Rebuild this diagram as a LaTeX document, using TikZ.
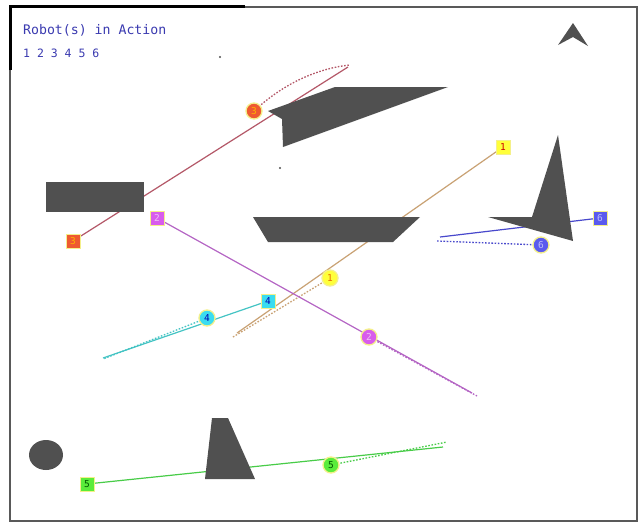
\documentclass[tikz,border=0pt]{standalone}
\usepackage{fontspec}
\newfontfamily\monofont{DejaVu Sans Mono}
\begin{document}
\begin{tikzpicture}[x=1pt,y=-1pt,
  obst/.style={fill=obgray, draw=none},
  sq/.style={rectangle, draw=glow, line width=1pt, minimum size=14pt, inner sep=0pt, font=\monofont\fontsize{9.5}{9.5}\selectfont},
  rc/.style={circle, draw=glow, line width=1.3pt, minimum size=16pt, inner sep=0pt, font=\monofont\fontsize{9.5}{9.5}\selectfont},
  trail/.style={line width=1.2pt},
  past/.style={line width=1.3pt, dash pattern=on 1.6pt off 1.6pt},
]
\definecolor{obgray}{HTML}{505050}
\definecolor{glow}{HTML}{F4F08A}
\definecolor{txtblue}{HTML}{3A3AB0}
\definecolor{cA}{HTML}{FFFF3A}\definecolor{lA}{HTML}{C9A274}
\definecolor{cB}{HTML}{D85CEC}\definecolor{lB}{HTML}{B464C4}
\definecolor{cC}{HTML}{EE5A30}\definecolor{lC}{HTML}{B45868}
\definecolor{cD}{HTML}{3ADCF0}\definecolor{lD}{HTML}{44C4C4}
\definecolor{cE}{HTML}{5AEC3A}\definecolor{lE}{HTML}{48CC48}
\definecolor{cF}{HTML}{5A5AEE}\definecolor{lF}{HTML}{4848CC}
\useasboundingbox (0,0) rectangle (640,523);
\fill[white] (0,0) rectangle (640,523);
% frame
\draw[line width=1.6pt, draw=gray!70!black] (10,7) rectangle (637,521);
\draw[line width=3pt, black] (10,70) -- (10,6) -- (245,6);
% title
\node[anchor=west, text=txtblue, font=\monofont\fontsize{13.2}{13.2}\selectfont, inner sep=0] (title) at (23,30) {Robot(s) in Action};
\node[anchor=west, text=txtblue, font=\monofont\fontsize{11.5}{11.5}\selectfont, inner sep=0] (ids) at (23,53) {1 2 3 4 5 6};
% north caret
\fill[obgray] (573,23) -- (588,46) -- (573,37) -- (558,45) -- cycle;
% small dots
\fill[obgray] (220,57) circle (1.1pt);
\fill[obgray] (280,168) circle (1.1pt);
% positions
\coordinate (p1) at (503,147); \coordinate (e1) at (237,333); \coordinate (q1) at (330,278); \coordinate (d1) at (233,337);
\coordinate (p2) at (157,218); \coordinate (e2) at (472,393); \coordinate (q2) at (369,337); \coordinate (d2) at (477,396);
\coordinate (p3) at (73,241);  \coordinate (e3) at (348,67);  \coordinate (q3) at (254,111); \coordinate (d3) at (350,65);
\coordinate (p4) at (268,301); \coordinate (e4) at (103,358); \coordinate (q4) at (207,318); \coordinate (d4) at (103,359);
\coordinate (p5) at (87,484);  \coordinate (e5) at (443,447); \coordinate (q5) at (331,465); \coordinate (d5) at (447,442);
\coordinate (p6) at (600,218); \coordinate (e6) at (440,237); \coordinate (q6) at (541,245); \coordinate (d6) at (437,241);
% trails
\draw[trail, lA] (p1) -- (e1);
\draw[past, lA] (q1) -- (d1);
\draw[trail, lB] (p2) -- (e2);
\draw[past, lB] (q2) -- (d2);
\draw[trail, lC] (p3) -- (e3);
\draw[past, lC] (q3) .. controls (285,82) and (320,68) .. (d3);
\draw[trail, lD] (p4) -- (e4);
\draw[past, lD] (q4) -- (d4);
\draw[trail, lE] (p5) -- (e5);
\draw[past, lE] (q5) -- (d5);
\draw[trail, lF] (p6) -- (e6);
\draw[past, lF] (q6) -- (d6);
% obstacles
\fill[obst] (46,182) rectangle (144,212);
\fill[obst] (268,111) -- (335,87) -- (448,87) -- (283,147) -- (282,119) -- cycle;
\fill[obst] (253,217) -- (420,217) -- (393,242) -- (268,242) -- cycle;
\fill[obst] (558,135) -- (573,241) -- (488,217) -- (532,217) -- cycle;
\fill[obst] (46,455) ellipse [x radius=17, y radius=15];
\fill[obst] (212,418) -- (228,418) -- (255,479) -- (205,479) -- cycle;
% robots
\node[sq, fill=cA, text=red!80!black] (s1) at (p1) {1};
\node[rc, fill=cA, text=orange!90!black] (r1) at (q1) {1};
\node[sq, fill=cB, text=cB!40!white] (s2) at (p2) {2};
\node[rc, fill=cB, text=cB!40!white] (r2) at (q2) {2};
\node[sq, fill=cC, text=orange!60!yellow] (s3) at (p3) {3};
\node[rc, fill=cC, text=orange!60!yellow] (r3) at (q3) {3};
\node[sq, fill=cD, text=blue!70!black] (s4) at (p4) {4};
\node[rc, fill=cD, text=blue!70!black] (r4) at (q4) {4};
\node[sq, fill=cE, text=green!35!black] (s5) at (p5) {5};
\node[rc, fill=cE, text=green!35!black] (r5) at (q5) {5};
\node[sq, fill=cF, text=cF!40!white] (s6) at (p6) {6};
\node[rc, fill=cF, text=cF!40!white] (r6) at (q6) {6};
\end{tikzpicture}
\end{document}
